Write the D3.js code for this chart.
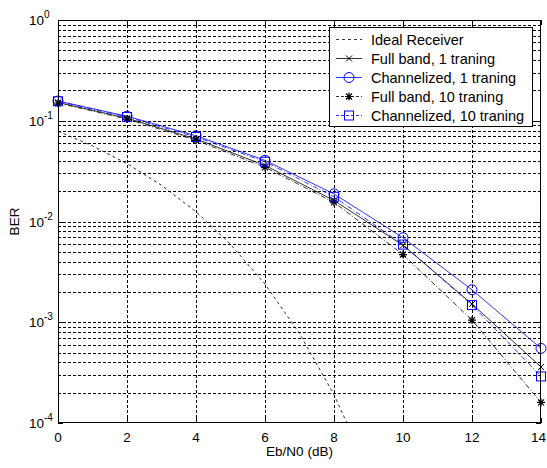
<!DOCTYPE html>
<html lang="en">
<head>
<meta charset="UTF-8">
<title>BER vs Eb/N0</title>
<script src="https://d3js.org/d3.v7.min.js"></script>
<style>
    body { margin: 0; background: #fff; }
    svg { display: block; font-family: "Liberation Sans", Arial, sans-serif; }
    .grid line { stroke: #000; stroke-width: 1; stroke-dasharray: 3,2; shape-rendering: crispEdges; }
</style>
</head>
<body>
<svg id="chart" width="547" height="468"></svg>
<script>
    // data
    const ebnoIdeal = [0, 1, 2, 3, 4, 5, 6, 7, 8, 9];
    const berIdeal = [0.0786, 0.0563, 0.0375, 0.0229, 0.0125, 0.00595, 0.00239, 0.000773, 0.000191, 0.0000336];

    const ebno = [0, 2, 4, 6, 8, 10, 12, 14];
    const fullBand1 = [0.152, 0.106, 0.066, 0.036, 0.0162, 0.0058, 0.00152, 0.00036];
    const chan1 = [0.157, 0.111, 0.071, 0.0405, 0.0188, 0.0069, 0.0021, 0.00055];
    const fullBand10 = [0.150, 0.104, 0.064, 0.0345, 0.0155, 0.0047, 0.00105, 0.00016];
    const chan10 = [0.156, 0.109, 0.069, 0.0392, 0.0176, 0.0059, 0.00148, 0.00029];

    const xTicks = [0, 2, 4, 6, 8, 10, 12, 14];
    const yDecades = [0, -1, -2, -3, -4];

    const series = [
        { name: "Ideal Receiver", x: ebnoIdeal, y: berIdeal, color: "#000", dash: "3,3", marker: null, width: 0.8 },
        { name: "Full band, 1 traning", x: ebno, y: fullBand1, color: "#000", dash: null, marker: "x", width: 0.8 },
        { name: "Channelized, 1 traning", x: ebno, y: chan1, color: "#00f", dash: null, marker: "o", width: 0.8 },
        { name: "Full band, 10 traning", x: ebno, y: fullBand10, color: "#000", dash: "5,2,1,2", marker: "*", width: 0.8 },
        { name: "Channelized, 10 traning", x: ebno, y: chan10, color: "#00f", dash: "5,2,1,2", marker: "s", width: 0.8 }
    ];

    const margin = { left: 58, right: 6, top: 20, bottom: 45 };
    const W = 547, H = 468;
    const svg = d3.select("#chart");

    const x = d3.scaleLinear().domain([0, 14]).range([margin.left, W - margin.right]);
    const y = d3.scaleLog().domain([1e-4, 1]).range([H - margin.bottom, margin.top]);

    const minorVals = [];
    yDecades.slice(1).forEach(e => {
        for (let k = 2; k <= 9; k++) minorVals.push(k * Math.pow(10, e));
    });
    const majorVals = yDecades.map(e => Math.pow(10, e));

    // grid
    const grid = svg.append("g").attr("class", "grid");
    grid.selectAll(".hy").data(minorVals.concat(majorVals.slice(1, -1))).enter().append("line")
        .attr("x1", x(0)).attr("x2", x(14))
        .attr("y1", d => Math.round(y(d)) + 0.5).attr("y2", d => Math.round(y(d)) + 0.5);
    grid.selectAll(".vx").data(xTicks.slice(1, -1)).enter().append("line")
        .attr("y1", y(1)).attr("y2", y(1e-4))
        .attr("x1", d => Math.round(x(d)) + 0.5).attr("x2", d => Math.round(x(d)) + 0.5);

    // clip
    svg.append("clipPath").attr("id", "clip").append("rect")
        .attr("x", x(0)).attr("y", y(1)).attr("width", x(14) - x(0)).attr("height", y(1e-4) - y(1));

    const line = d3.line().x(d => x(d[0])).y(d => y(d[1]));
    const plot = svg.append("g").attr("clip-path", "url(#clip)");

    series.forEach(s => {
        const pts = s.x.map((v, i) => [v, s.y[i]]);
        plot.append("path").datum(pts)
            .attr("d", line)
            .attr("fill", "none")
            .attr("stroke", s.color)
            .attr("stroke-width", s.width)
            .attr("stroke-dasharray", s.dash);
    });

    function drawMarker(g, type, cx, cy, color) {
        if (type === "x") {
            g.append("path").attr("d", `M${cx - 3},${cy - 3}L${cx + 3},${cy + 3}M${cx - 3},${cy + 3}L${cx + 3},${cy - 3}`)
                .attr("stroke", color).attr("stroke-width", 1).attr("fill", "none");
        } else if (type === "o") {
            g.append("circle").attr("cx", cx).attr("cy", cy).attr("r", 5)
                .attr("stroke", color).attr("stroke-width", 1).attr("fill", "none");
        } else if (type === "s") {
            g.append("rect").attr("x", cx - 4.5).attr("y", cy - 4.5).attr("width", 9).attr("height", 9)
                .attr("stroke", color).attr("stroke-width", 1).attr("fill", "none");
        } else if (type === "*") {
            g.append("path").attr("d", `M${cx - 4},${cy}L${cx + 4},${cy}M${cx},${cy - 4}L${cx},${cy + 4}` +
                `M${cx - 3},${cy - 3}L${cx + 3},${cy + 3}M${cx - 3},${cy + 3}L${cx + 3},${cy - 3}`)
                .attr("stroke", color).attr("stroke-width", 1.2).attr("fill", "none");
        }
    }

    const markers = svg.append("g");
    series.filter(s => s.marker).forEach(s => {
        s.x.forEach((v, i) => drawMarker(markers, s.marker, x(v), y(s.y[i]), s.color));
    });

    // frame
    svg.append("rect")
        .attr("x", x(0) + 0.5).attr("y", y(1) + 0.5)
        .attr("width", x(14) - x(0) - 1).attr("height", y(1e-4) - y(1) - 1)
        .attr("fill", "none").attr("stroke", "#000").attr("stroke-width", 1);

    // ticks (inside)
    const ticks = svg.append("g").attr("stroke", "#000").attr("stroke-width", 1);
    xTicks.forEach(t => {
        const px = Math.round(x(t)) + 0.5;
        ticks.append("line").attr("x1", px).attr("x2", px).attr("y1", y(1e-4)).attr("y2", y(1e-4) - 5);
        ticks.append("line").attr("x1", px).attr("x2", px).attr("y1", y(1)).attr("y2", y(1) + 5);
    });
    majorVals.concat(minorVals).forEach(v => {
        const py = Math.round(y(v)) + 0.5;
        const len = majorVals.includes(v) ? 5 : 3;
        ticks.append("line").attr("x1", x(0)).attr("x2", x(0) + len).attr("y1", py).attr("y2", py);
        ticks.append("line").attr("x1", x(14)).attr("x2", x(14) - len).attr("y1", py).attr("y2", py);
    });

    // tick labels
    const labels = svg.append("g").attr("font-size", 13.5).attr("fill", "#000");
    xTicks.forEach((t, i) => {
        const last = i === xTicks.length - 1;
        labels.append("text").attr("x", last ? W - 1 : x(t)).attr("y", y(1e-4) + 19)
            .attr("text-anchor", last ? "end" : "middle").text(t);
    });
    yDecades.forEach(e => {
        const t = labels.append("text").attr("x", x(0) - 29).attr("y", y(Math.pow(10, e)) + 5);
        t.append("tspan").text("10");
        t.append("tspan").attr("font-size", 10).attr("dy", -7).text(e);
    });

    svg.append("text").attr("x", x(7)).attr("y", H - 12)
        .attr("text-anchor", "middle").attr("font-size", 13.5).text("Eb/N0 (dB)");
    svg.append("text").attr("transform", `translate(19,${(y(1) + y(1e-4)) / 2}) rotate(-90)`)
        .attr("text-anchor", "middle").attr("font-size", 13.5).text("BER");

    // legend
    const lg = svg.append("g").attr("transform", "translate(329,27)");
    lg.append("rect").attr("x", 0.5).attr("y", 0.5).attr("width", 203).attr("height", 99)
        .attr("fill", "#fff").attr("stroke", "#000").attr("stroke-width", 1);
    series.forEach((s, i) => {
        const ly = 12.5 + i * 19;
        lg.append("line").attr("x1", 7).attr("x2", 33).attr("y1", ly).attr("y2", ly)
            .attr("stroke", s.color).attr("stroke-width", s.width)
            .attr("stroke-dasharray", s.dash ? (s.marker ? "3,2" : "3,3") : null);
        if (s.marker) drawMarker(lg, s.marker, 20, ly, s.color);
        lg.append("text").attr("x", 42).attr("y", ly + 5).attr("font-size", 14.5).text(s.name);
    });
</script>
</body>
</html>
